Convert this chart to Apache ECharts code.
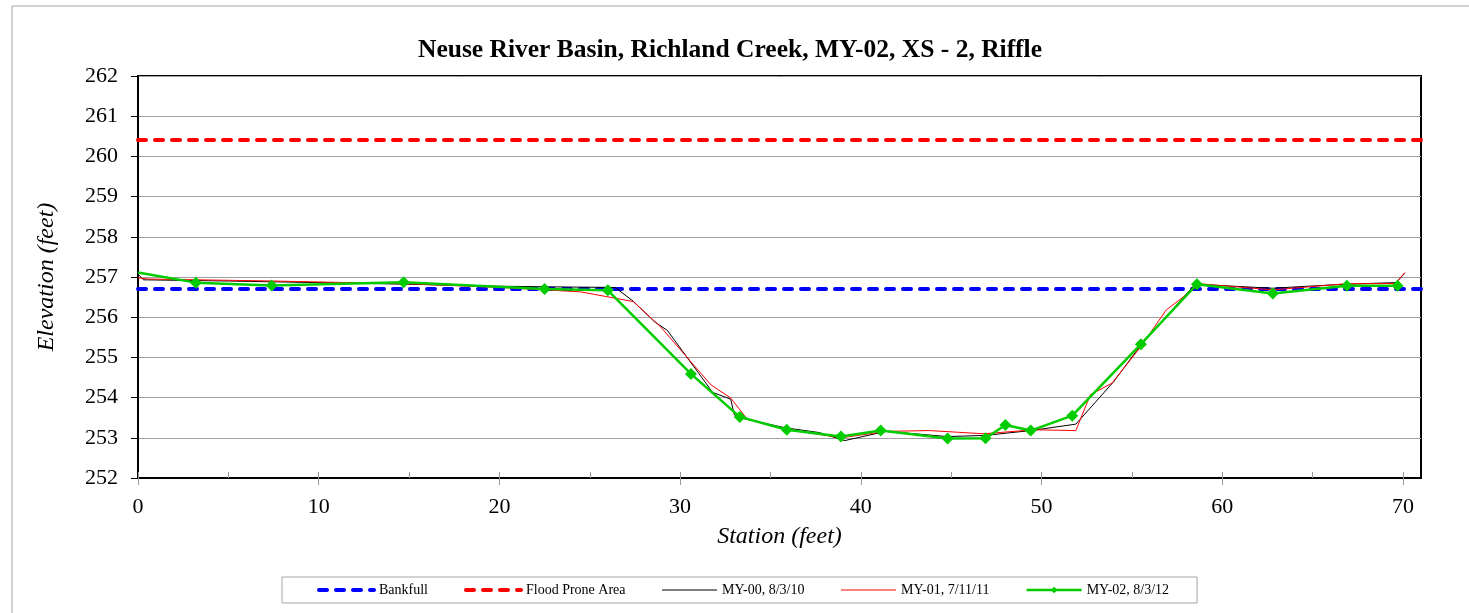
<!DOCTYPE html>
<html>
<head>
<meta charset="utf-8">
<script src="https://cdn.jsdelivr.net/npm/echarts@6/dist/echarts.min.js"></script>
<style>
  html, body { margin: 0; padding: 0; background: #fff; }
  #chart { width: 1469px; height: 613px; }
</style>
</head>
<body>
<div id="chart"></div>
<script>
    // x = station (feet), y = elevation (feet)
    var xTicks = [0, 10, 20, 30, 40, 50, 60, 70];
    var xMinorTicks = [0, 5, 10, 15, 20, 25, 30, 35, 40, 45, 50, 55, 60, 65, 70];
    var yTicks = [252, 253, 254, 255, 256, 257, 258, 259, 260, 261, 262];

    var bankfullElev = 256.7;
    var floodElev = 260.41;
    var refStation = [0, 71];

    var my00Station = [0, 0.3, 5, 10, 15, 20, 24, 26.4, 27.4, 28.6, 29.3, 31.8, 32.8, 33.0, 33.3, 35.8, 37.7, 39.1, 41.4, 44.8, 46.9, 49.4, 51.9, 54.0, 55.5, 58.5, 62.8, 64.3, 66.8, 69.6, 70.1];
    var my00Elev = [257.07, 256.93, 256.9, 256.86, 256.82, 256.77, 256.75, 256.74, 256.40, 255.88, 255.67, 254.13, 253.96, 253.57, 253.5, 253.25, 253.13, 252.93, 253.16, 253.03, 253.06, 253.18, 253.34, 254.40, 255.31, 256.82, 256.72, 256.76, 256.82, 256.86, 257.09];

    var my01Station = [0, 0.5, 7.5, 15, 20.5, 24.5, 27.4, 28.9, 31.7, 32.8, 33.7, 35.5, 38.9, 41.4, 43.8, 46.8, 49.6, 51.9, 52.7, 53.9, 55.5, 56.9, 58.8, 62.8, 66.8, 69.6, 70.1];
    var my01Elev = [256.98, 256.95, 256.9, 256.83, 256.73, 256.63, 256.39, 255.77, 254.32, 253.99, 253.47, 253.24, 253.0, 253.16, 253.18, 253.10, 253.20, 253.18, 254.07, 254.36, 255.27, 256.18, 256.83, 256.68, 256.83, 256.84, 257.11];

    var my02Station = [0, 3.2, 7.4, 14.7, 22.5, 26.0, 30.6, 33.3, 35.9, 38.9, 41.1, 44.8, 46.9, 48.0, 49.4, 51.7, 55.5, 58.6, 62.8, 66.9, 69.7];
    var my02Elev = [257.11, 256.86, 256.79, 256.87, 256.70, 256.67, 254.59, 253.52, 253.20, 253.03, 253.18, 252.98, 252.99, 253.32, 253.18, 253.55, 255.33, 256.82, 256.59, 256.78, 256.78];

    function pairs(xs, ys) {
        return xs.map(function (x, i) { return [x, ys[i]]; });
    }

    var serif = '"Liberation Serif", "Times New Roman", serif';

    var my02Data = pairs(my02Station, my02Elev);
    // first point sits on the axis without a marker
    my02Data[0] = { value: my02Data[0], symbol: 'none' };

    var chart = echarts.init(document.getElementById('chart'));
    var option = {
        animation: false,
        backgroundColor: '#fff',
        textStyle: { fontFamily: serif },
        graphic: [{
            type: 'rect',
            shape: { x: 12, y: 6, width: 1480, height: 640 },
            style: { fill: 'none', stroke: '#a6a6a6', lineWidth: 1 },
            silent: true,
            z: -10
        }],
        title: {
            text: 'Neuse River Basin, Richland Creek, MY-02, XS - 2, Riffle',
            left: 413,
            top: 32,
            textStyle: { fontFamily: serif, fontWeight: 'bold', fontSize: 25.5, color: '#000' }
        },
        legend: {
            left: 282,
            top: 577,
            padding: [6, 28, 6, 35],
            itemWidth: 55,
            itemHeight: 8,
            itemGap: 36,
            borderColor: '#a6a6a6',
            borderWidth: 1,
            backgroundColor: '#fff',
            textStyle: { fontFamily: serif, fontSize: 14, color: '#000' },
            data: [
                { name: 'Bankfull', itemStyle: { opacity: 0 }, lineStyle: { width: 4 } },
                { name: 'Flood Prone Area', itemStyle: { opacity: 0 }, lineStyle: { width: 4 } },
                { name: 'MY-00, 8/3/10', itemStyle: { opacity: 0 }, lineStyle: { width: 1 } },
                { name: 'MY-01, 7/11/11', itemStyle: { opacity: 0 }, lineStyle: { width: 1 } },
                { name: 'MY-02, 8/3/12', lineStyle: { width: 2.5 } }
            ]
        },
        grid: {
            left: 138,
            right: 48,
            top: 76,
            bottom: 135,
            show: true,
            borderColor: '#000',
            borderWidth: 2
        },
        xAxis: [
            {
                type: 'value',
                min: 0,
                max: 71,
                name: 'Station (feet)',
                nameLocation: 'middle',
                nameGap: 47,
                nameTextStyle: { fontFamily: serif, fontStyle: 'italic', fontSize: 24, color: '#000' },
                axisLine: { lineStyle: { color: '#000', width: 2 } },
                axisTick: { show: true, length: 7, customValues: xTicks, lineStyle: { color: '#999' } },
                axisLabel: { customValues: xTicks, margin: 18, fontFamily: serif, fontSize: 22, color: '#000' },
                splitLine: { show: false }
            },
            {
                type: 'value',
                min: 0,
                max: 71,
                position: 'bottom',
                axisLine: { show: false },
                axisTick: { show: true, inside: true, length: 6, customValues: xMinorTicks, lineStyle: { color: '#999' } },
                axisLabel: { show: false },
                splitLine: { show: false }
            }
        ],
        yAxis: {
            type: 'value',
            min: 252,
            max: 262,
            interval: 1,
            name: 'Elevation (feet)',
            nameLocation: 'middle',
            nameGap: 79,
            nameTextStyle: { fontFamily: serif, fontStyle: 'italic', fontSize: 24, color: '#000' },
            axisLine: { show: true, lineStyle: { color: '#000', width: 2 } },
            axisTick: { show: true, length: 7, lineStyle: { color: '#000' } },
            axisLabel: { customValues: yTicks, margin: 20, fontFamily: serif, fontSize: 22, color: '#000' },
            splitLine: { lineStyle: { color: '#a0a0a0', width: 1 } }
        },
        series: [
            {
                name: 'Bankfull',
                type: 'line',
                symbol: 'none',
                data: refStation.map(function (x) { return [x, bankfullElev]; }),
                lineStyle: { color: '#0000ff', width: 4, type: [8, 9], cap: 'round' },
                itemStyle: { color: '#0000ff' }
            },
            {
                name: 'Flood Prone Area',
                type: 'line',
                symbol: 'none',
                data: refStation.map(function (x) { return [x, floodElev]; }),
                lineStyle: { color: '#ff0000', width: 4, type: [8, 9], cap: 'round' },
                itemStyle: { color: '#ff0000' }
            },
            {
                name: 'MY-00, 8/3/10',
                type: 'line',
                symbol: 'none',
                data: pairs(my00Station, my00Elev),
                lineStyle: { color: '#000', width: 1 },
                itemStyle: { color: '#000' }
            },
            {
                name: 'MY-01, 7/11/11',
                type: 'line',
                symbol: 'none',
                data: pairs(my01Station, my01Elev),
                lineStyle: { color: '#ff0000', width: 1 },
                itemStyle: { color: '#ff0000' }
            },
            {
                name: 'MY-02, 8/3/12',
                type: 'line',
                symbol: 'diamond',
                symbolSize: 12,
                data: my02Data,
                lineStyle: { color: '#00cc00', width: 2.5 },
                itemStyle: { color: '#00cc00' }
            }
        ]
    };
    chart.setOption(option);
</script>
</body>
</html>
